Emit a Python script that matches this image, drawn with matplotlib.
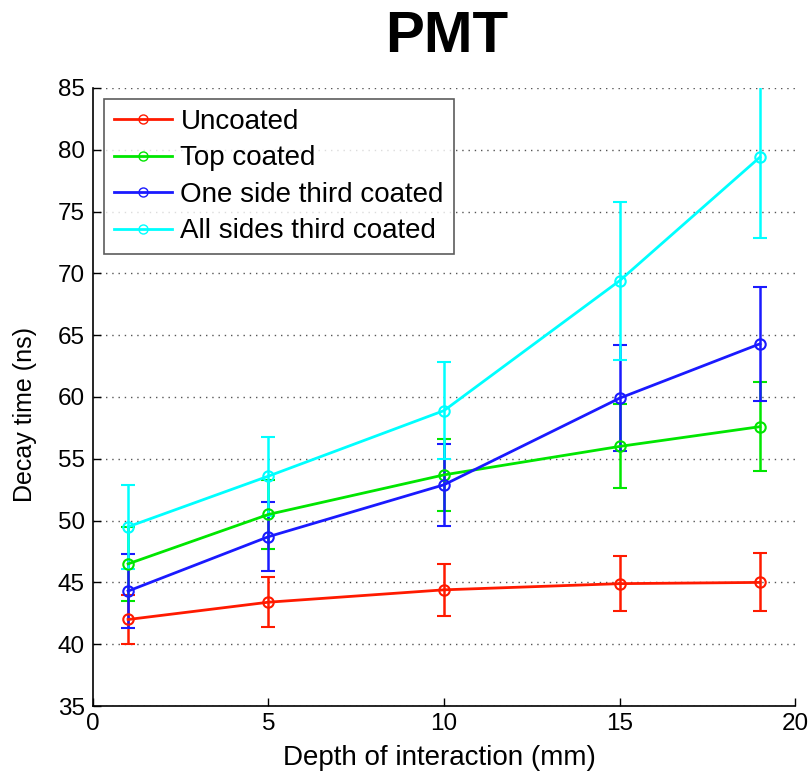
import numpy as np
import matplotlib
matplotlib.use("Agg")
import matplotlib.pyplot as plt
from matplotlib.lines import Line2D

plt.rcParams['font.family'] = ['Liberation Sans', 'DejaVu Sans']

depth = [1, 5, 10, 15, 19]

labels = ['Uncoated', 'Top coated', 'One side third coated', 'All sides third coated']
colors = ['#ff1a00', '#00e600', '#1a1aff', '#00ffff']

uncoated = [42.0, 43.4, 44.4, 44.9, 45.0]
uncoated_err = [2.0, 2.0, 2.1, 2.2, 2.35]

top_coated = [46.5, 50.5, 53.7, 56.0, 57.6]
top_coated_err = [3.0, 2.8, 2.9, 3.4, 3.6]

one_side = [44.3, 48.7, 52.9, 59.9, 64.3]
one_side_err = [3.0, 2.8, 3.3, 4.3, 4.6]

all_sides = [49.5, 53.6, 58.9, 69.4, 79.4]
all_sides_err = [3.4, 3.2, 3.9, 6.4, 6.5]

series = [(uncoated, uncoated_err), (top_coated, top_coated_err),
          (one_side, one_side_err), (all_sides, all_sides_err)]

fig = plt.figure(figsize=(8.1, 7.75), dpi=100)
ax = fig.add_axes([0.1148, 0.089, 0.8667, 0.7975])

for (vals, err), col in zip(series, colors):
    ax.errorbar(depth, vals, yerr=err, color=col, ecolor=col, lw=2.0, elinewidth=1.8,
                capsize=5, capthick=1.8, marker='o', ms=7.5, mfc='none', mew=1.5)

ax.set_xlim(0, 20)
ax.set_ylim(35, 85)
ax.set_xticks([0, 5, 10, 15, 20])
ax.set_yticks(np.arange(35, 86, 5))
ax.yaxis.grid(True, linestyle=(0, (1, 3.5)), color='#555555', lw=1.0)
ax.set_axisbelow(True)
for side in ['top', 'right']:
    ax.spines[side].set_visible(False)
for side in ['left', 'bottom']:
    ax.spines[side].set_linewidth(1.2)
ax.tick_params(direction='in', length=6, width=1.0, labelsize=17.5)
ax.tick_params(axis='y', pad=6)
ax.tick_params(axis='x', pad=5)

ax.set_xlabel('Depth of interaction (mm)', fontsize=20)
ax.xaxis.set_label_coords(0.493, -0.063)
ax.set_ylabel('Decay time (ns)', fontsize=18)
ax.yaxis.set_label_coords(-0.08, 0.471)
fig.text(0.551, 0.933, 'PMT', fontsize=42, fontweight='bold', ha='center', va='baseline')

handles = [Line2D([], [], color=c, lw=2.0, marker='o', ms=6.5, mfc='none', mew=1.0)
           for c in colors]
leg = ax.legend(handles, labels, loc='upper left', fontsize=20, frameon=True,
                fancybox=False, edgecolor='#333333', borderaxespad=0.4,
                handlelength=2.1, handletextpad=0.3, labelspacing=0.38,
                borderpad=0.35)
leg.get_frame().set_linewidth(1.2)

fig.savefig('out.png', dpi=100)
